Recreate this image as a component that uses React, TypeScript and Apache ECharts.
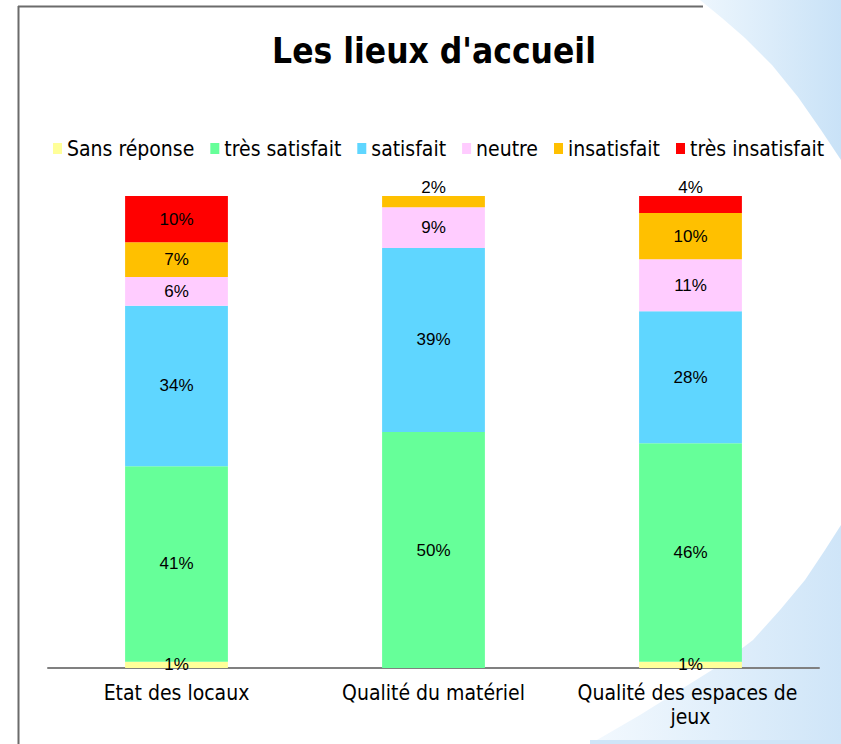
import React, { useEffect, useRef } from "react";
import * as echarts from "echarts";

const titleText = "Les lieux d'accueil";
const categories = ["Etat des locaux", "Qualité du matériel", "Qualité des espaces de jeux"];
const seriesNames = ["Sans réponse", "très satisfait", "satisfait", "neutre", "insatisfait", "très insatisfait"];
const sansReponse = [1.35, 0, 1.3];
const tresSatisfait = [41.4, 50.0, 46.3];
const satisfait = [34.0, 39.0, 28.0];
const neutre = [6.1, 8.6, 11.0];
const insatisfait = [7.35, 2.4, 9.8];
const tresInsatisfait = [9.8, 0, 3.6];
const colors = ["#FFFF99", "#66FF99", "#5FD6FF", "#FFCCFF", "#FFC000", "#FF0000"];

const FONT = '"DejaVu Sans Condensed", "DejaVu Sans", sans-serif';
const LABEL_FONT = '"Liberation Sans", Arial, sans-serif';

export default function App() {
  const ref = useRef<HTMLDivElement>(null);
  useEffect(() => {
    document.body.style.margin = "0";
    const chart = echarts.init(ref.current!, null, { renderer: "svg" });
    const allValues = [sansReponse, tresSatisfait, satisfait, neutre, insatisfait, tresInsatisfait];
    // topmost non-zero series per category
    const topIdx = categories.map((_, c) => {
      let t = 0;
      allValues.forEach((arr, s) => {
        if (arr[c] > 0) t = s;
      });
      return t;
    });
    const series = allValues.map((arr, s) => ({
      name: seriesNames[s],
      type: "bar",
      stack: "total",
      barWidth: "40%",
      itemStyle: { color: colors[s] },
      label: {
        show: true,
        position: "inside",
        color: "#000",
        fontFamily: LABEL_FONT,
        fontSize: 17,
        formatter: (p: any) => (p.value > 0 ? Math.round(p.value) + "%" : ""),
      },
      data: arr.map((v, c) =>
        s === topIdx[c] && v < 5
          ? { value: v, label: { position: "top", distance: 0 } }
          : v
      ),
    }));

    const topSwoosh = [
      [700, 0], [722, 18], [745, 38], [772, 65], [798, 97], [821, 130], [841, 160], [841, 0],
    ];
    const bottomSwoosh = [
      [841, 525], [825, 550], [805, 580], [780, 610], [753, 640], [720, 665], [680, 690], [640, 715], [590, 744], [841, 744],
    ];

    chart.setOption({
      animation: false,
      backgroundColor: "#ffffff",
      graphic: [
        {
          type: "polygon",
          z: -10,
          shape: { points: topSwoosh },
          style: {
            fill: new echarts.graphic.LinearGradient(0, 0, 1, 0, [
              { offset: 0, color: "#edf6fd" },
              { offset: 1, color: "#c9e2f7" },
            ]),
          },
        },
        {
          type: "polygon",
          z: -10,
          shape: { points: bottomSwoosh },
          style: {
            fill: new echarts.graphic.LinearGradient(0, 0, 1, 0, [
              { offset: 0, color: "#f3f9fe" },
              { offset: 1, color: "#cfe5f8" },
            ]),
          },
        },
        {
          type: "rect",
          z: -9,
          shape: { x: 590, y: 740, width: 251, height: 4 },
          style: { fill: "#cfe5f8" },
        },
        {
          type: "line",
          z: -5,
          shape: { x1: 18.5, y1: 6, x2: 18.5, y2: 744 },
          style: { stroke: "#6b6b6b", lineWidth: 2 },
        },
        {
          type: "line",
          z: -5,
          shape: { x1: 18, y1: 6.5, x2: 703, y2: 6.5 },
          style: { stroke: "#6b6b6b", lineWidth: 2 },
        },
        {
          type: "text",
          z: 10,
          x: 434,
          y: 51,
          style: {
            text: titleText,
            fontFamily: FONT,
            fontWeight: "bold",
            fontSize: 35,
            fill: "#000",
            align: "center",
            verticalAlign: "middle",
          },
        },
      ],
      legend: {
        left: 48,
        top: 133,
        itemWidth: 9,
        itemHeight: 11,
        itemGap: 16,
        icon: "rect",
        data: seriesNames,
        textStyle: { fontFamily: FONT, fontSize: 21, color: "#000" },
      },
      grid: { left: 48, right: 22, top: 196, bottom: 76, containLabel: false },
      xAxis: {
        type: "category",
        data: categories,
        axisLine: { show: true, lineStyle: { color: "#808080", width: 2 } },
        axisTick: { show: false },
        axisLabel: {
          color: "#000",
          fontFamily: FONT,
          fontSize: 21,
          margin: 13,
          lineHeight: 24,
          width: 245,
          overflow: "break",
          interval: 0,
        },
      },
      yAxis: { type: "value", min: 0, max: 100, show: false },
      series,
    });
    return () => chart.dispose();
  }, []);
  return <div ref={ref} style={{ width: 841, height: 744 }} />;
}
